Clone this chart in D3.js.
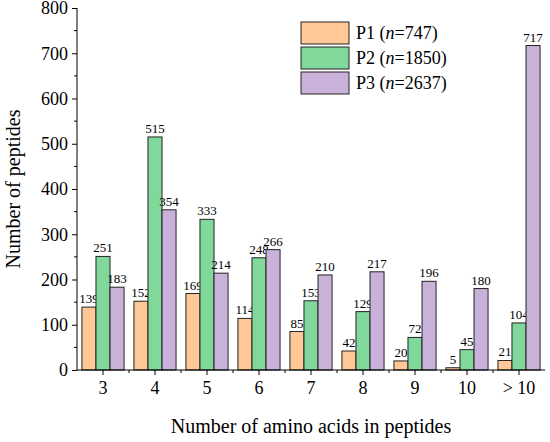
<!DOCTYPE html>
<html><head><meta charset="utf-8">
<script src="https://cdn.jsdelivr.net/npm/d3@7"></script>
<style>body{margin:0;background:#fff}text{font-family:"Liberation Serif","Times New Roman",serif}</style>
</head><body>
<script>
var categories = ["3","4","5","6","7","8","9","10","> 10"];
var p1 = [139,152,169,114,85,42,20,5,21];
var p2 = [251,515,333,248,153,129,72,45,104];
var p3 = [183,354,214,266,210,217,196,180,717];
var seriesNames = ["P1","P2","P3"];
var seriesN = ["747","1850","2637"];
var colors = ["#ffc896","#80d99b","#c8b2d9"];
var series = [p1,p2,p3];

var W = 550, H = 442, L = 77, R = 545, T = 8, B = 370;
var svg = d3.select("body").append("svg").attr("width", W).attr("height", H);

var x = d3.scaleBand().domain(categories).range([L, R]).paddingInner(0.19).paddingOuter(0.095);
var x1 = d3.scaleBand().domain([0,1,2]).range([0, x.bandwidth()]);
var y = d3.scaleLinear().domain([0, 800]).range([B, T]);

// bars
series.forEach(function(s, i) {
    var g = svg.append("g");
    g.selectAll("rect").data(s).enter().append("rect")
        .attr("x", function(d, j) { return x(categories[j]) + x1(i); })
        .attr("y", function(d) { return y(d); })
        .attr("width", x1.bandwidth())
        .attr("height", function(d) { return B - y(d); })
        .attr("fill", colors[i]).attr("stroke", "#222").attr("stroke-width", 1);
    g.selectAll("text").data(s).enter().append("text")
        .attr("x", function(d, j) { return x(categories[j]) + x1(i) + x1.bandwidth() / 2; })
        .attr("y", function(d) { return y(d) - 4; })
        .attr("text-anchor", "middle").attr("font-size", 13)
        .text(function(d) { return d; });
});

// axes
var yAxis = d3.axisLeft(y).tickValues(d3.range(0, 801, 100)).tickSize(5).tickPadding(4);
var ya = svg.append("g").attr("transform", "translate(" + L + ",0)").call(yAxis);
ya.selectAll("text").attr("font-size", 18);
ya.selectAll(".domain").attr("d", "M0," + B + "V" + T);
svg.append("g").selectAll("line").data(d3.range(50, 800, 100)).enter().append("line")
    .attr("x1", L - 3).attr("x2", L).attr("y1", y).attr("y2", y).attr("stroke", "#000");

var xAxis = d3.axisBottom(x).tickSize(5).tickPadding(6);
var xa = svg.append("g").attr("transform", "translate(0," + B + ")").call(xAxis);
xa.selectAll("text").attr("font-size", 18);
xa.selectAll(".domain").attr("d", "M" + L + ",0H" + R);
var gap = x.step() - x.bandwidth();
svg.append("g").selectAll("line").data(categories.slice(1)).enter().append("line")
    .attr("x1", function(d) { return x(d) - gap / 2; })
    .attr("x2", function(d) { return x(d) - gap / 2; })
    .attr("y1", B).attr("y2", B + 3).attr("stroke", "#000");

svg.append("text").attr("x", (L + R) / 2).attr("y", 433).attr("text-anchor", "middle")
    .attr("font-size", 20).text("Number of amino acids in peptides");
svg.append("text").attr("transform", "translate(20," + ((T + B) / 2) + ") rotate(-90)")
    .attr("text-anchor", "middle").attr("font-size", 20).text("Number of peptides");

// legend
var lg = svg.append("g").attr("transform", "translate(301,22)");
seriesNames.forEach(function(n, i) {
    lg.append("rect").attr("x", 0).attr("y", i * 25).attr("width", 48).attr("height", 22)
        .attr("fill", colors[i]).attr("stroke", "#222");
    var t = lg.append("text").attr("x", 55).attr("y", i * 25 + 17).attr("font-size", 18);
    t.append("tspan").text(n + " (");
    t.append("tspan").attr("font-style", "italic").text("n");
    t.append("tspan").text("=" + seriesN[i] + ")");
});
</script>
</body></html>
